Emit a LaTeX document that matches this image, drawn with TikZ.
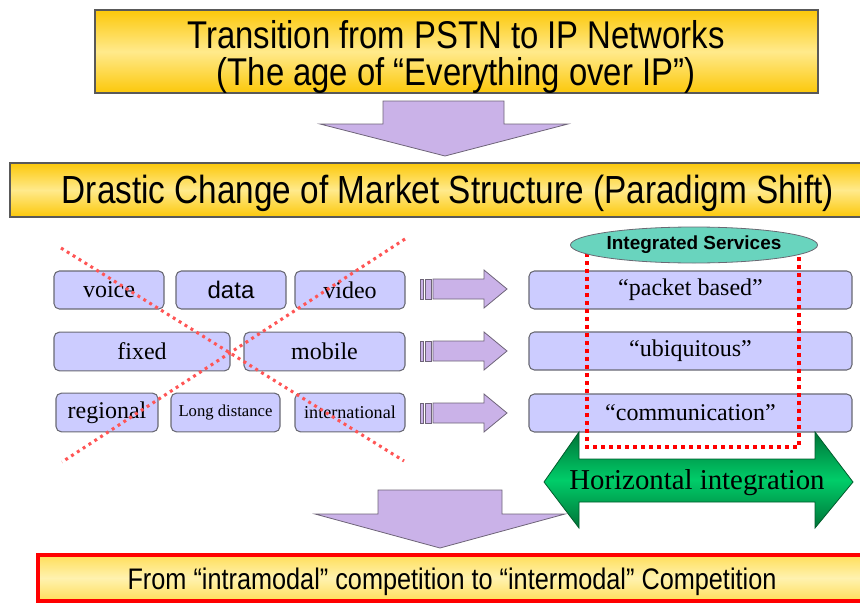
\documentclass[tikz,border=0pt]{standalone}
\usepackage{fontspec}
\setmainfont{Liberation Serif}
\newfontfamily\titlefont[FakeStretch=0.85]{Liberation Sans}
\newfontfamily\sansfont{Liberation Sans}
\usetikzlibrary{shapes.geometric}

\definecolor{gold}{RGB}{252,200,10}
\definecolor{goldlight}{RGB}{255,234,140}
\definecolor{cream}{RGB}{255,222,90}
\definecolor{creamlight}{RGB}{255,242,175}
\definecolor{lav}{RGB}{204,204,255}
\definecolor{boxedge}{RGB}{105,105,115}
\definecolor{lilac}{RGB}{202,178,232}
\definecolor{lilacedge}{RGB}{110,100,120}
\definecolor{teal}{RGB}{105,212,190}
\definecolor{xred}{RGB}{255,85,85}
\definecolor{gdark}{RGB}{0,115,55}
\definecolor{gmid}{RGB}{0,205,105}

\tikzset{
  lbox/.style={draw=boxedge, fill=lav, line width=0.8pt, rounded corners=4pt,
    inner sep=0pt, minimum height=28.5pt},
  blockarrow/.style={draw=lilacedge, fill=lilac, line width=0.6pt},
  crossline/.style={draw=xred, line width=2.3pt, dash pattern=on 2.2pt off 3pt},
  servbox/.style={draw=red, line width=3pt, dash pattern=on 3pt off 3pt},
  banner/.style={draw=black!65, line width=0.8pt},
}

\begin{document}
\begin{tikzpicture}[x=0.75pt,y=-0.75pt]
\useasboundingbox (0,0) rectangle (860,603);
\clip (0,0) rectangle (860,603);

% title banner
\shade[top color=gold, bottom color=gold, middle color=goldlight]
  (95,10) rectangle (818,93);
\draw[banner] (95,10) rectangle (818,93);
\node[font=\titlefont\fontsize{29pt}{28pt}\selectfont, align=center] (title) at (456,57)
  {Transition from PSTN to IP Networks\\(The age of “Everything over IP”)};

% first down arrow
\path[blockarrow] (383,101) -- (504,101) -- (504,124) -- (568,124) -- (445,156)
  -- (320,124) -- (383,124) -- cycle;

% market structure banner
\shade[top color=gold, bottom color=gold, middle color=goldlight]
  (10,163) rectangle (890,217);
\draw[banner] (10,163) rectangle (890,217);
\node[font=\titlefont\fontsize{29.4pt}{30pt}\selectfont] (shift) at (448,193)
  {Drastic Change of Market Structure (Paradigm Shift)};

% old segmented services
\node[lbox, minimum width=82.5pt, font=\fontsize{18pt}{20pt}\selectfont] (voice) at (109,290) {voice};
\node[lbox, minimum width=82.5pt, font=\sansfont\fontsize{18pt}{20pt}\selectfont] (data) at (231,290) {data};
\node[lbox, minimum width=82.5pt, font=\fontsize{18pt}{20pt}\selectfont] (video) at (350,290) {video};
\node[lbox, minimum width=132pt, minimum height=29pt, font=\fontsize{18pt}{20pt}\selectfont] (fixed) at (142,351.5) {fixed};
\node[lbox, minimum width=120.75pt, minimum height=29pt, font=\fontsize{18pt}{20pt}\selectfont] (mobile) at (324.5,351.5) {mobile};
\node[lbox, minimum width=76.5pt, minimum height=29pt, font=\fontsize{18pt}{20pt}\selectfont] (regional) at (107,412.5) {regional};
\node[lbox, minimum width=81.75pt, minimum height=29pt, font=\fontsize{12.5pt}{14pt}\selectfont] (long) at (225.5,412.5) {Long distance};
\node[lbox, minimum width=82.5pt, minimum height=29pt, font=\fontsize{13.6pt}{15pt}\selectfont] (intl) at (350,412.5) {international};

% crossing out
\draw[crossline] (61,248) -- (404,461);
\draw[crossline] (405,239) -- (62,462);

% small arrows, one per row
\foreach \yc in {289,351,413}{
  \path[blockarrow] (420,\yc-10) rectangle (423,\yc+10);
  \path[blockarrow] (425,\yc-10) rectangle (431,\yc+10);
  \path[blockarrow] (433,\yc-10) -- (484,\yc-10) -- (484,\yc-19) -- (507,\yc)
    -- (484,\yc+19) -- (484,\yc+10) -- (433,\yc+10) -- cycle;
}

% new integrated services
\node[lbox, minimum width=242.25pt, font=\fontsize{18pt}{20pt}\selectfont] (packet) at (690.5,290) {“packet based”};
\node[lbox, minimum width=242.25pt, font=\fontsize{18pt}{20pt}\selectfont] (ubiq) at (690.5,351) {“ubiquitous”};
\node[lbox, minimum width=242.25pt, font=\fontsize{18pt}{20pt}\selectfont] (comm) at (690.5,413) {“communication”};

\draw[servbox] (587,253) rectangle (799,447);
\node[ellipse, draw=boxedge, fill=teal, line width=0.6pt, minimum width=181.5pt,
  minimum height=27pt, inner sep=0pt, font=\sansfont\bfseries\fontsize{14.2pt}{15pt}\selectfont]
  (integ) at (694,245) {Integrated Services};

% second down arrow
\path[blockarrow] (378,490) -- (502,490) -- (502,514) -- (565,514) -- (440,548)
  -- (315,514) -- (378,514) -- cycle;

% horizontal integration double arrow
\shade[top color=gdark, bottom color=gdark, middle color=gmid]
  (544,482) -- (579,432) -- (579,459) -- (815,459) -- (815,432) -- (853,482)
  -- (815,528) -- (815,502) -- (579,502) -- (579,528) -- cycle;
\draw[gdark!80!black, line width=0.6pt]
  (544,482) -- (579,432) -- (579,459) -- (815,459) -- (815,432) -- (853,482)
  -- (815,528) -- (815,502) -- (579,502) -- (579,528) -- cycle;
\node[font=\fontsize{21.6pt}{24pt}\selectfont] (horiz) at (697,483) {Horizontal integration};

% conclusion banner
\shade[top color=cream, bottom color=cream, middle color=creamlight]
  (38,555) rectangle (880,601);
\draw[red, line width=3pt] (38,555) rectangle (880,601);
\node[font=\titlefont\fontsize{22.3pt}{24pt}\selectfont] (concl) at (452,582)
  {From “intramodal” competition to “intermodal” Competition};
\end{tikzpicture}
\end{document}
